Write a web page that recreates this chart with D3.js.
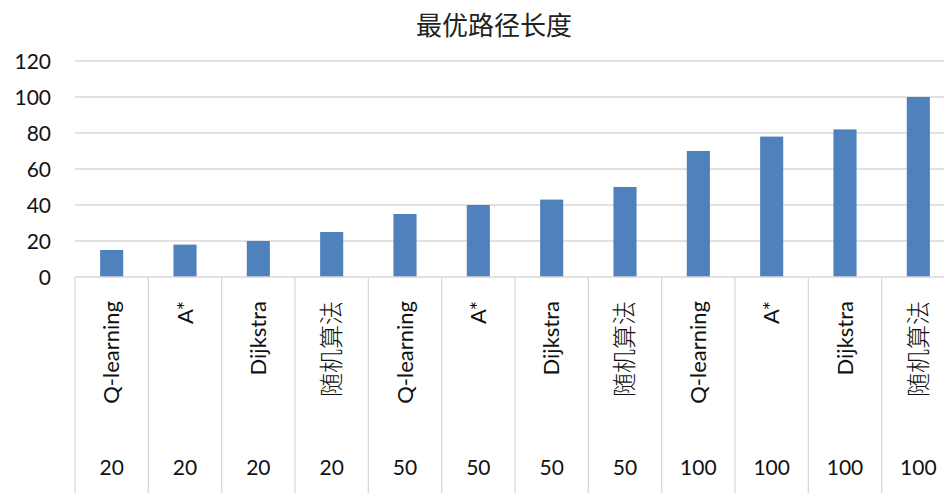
<!DOCTYPE html>
<html>
<head>
<meta charset="utf-8">
<script src="https://cdn.jsdelivr.net/npm/d3@7"></script>
<style>
  body { margin: 0; background: #fff; }
  svg { display: block; }
</style>
</head>
<body>
<div id="chart"></div>
<script>
const methods = ['Q-learning', 'A*', 'Dijkstra', '随机算法', 'Q-learning', 'A*', 'Dijkstra', '随机算法', 'Q-learning', 'A*', 'Dijkstra', '随机算法'];
const sizes = ['20', '20', '20', '20', '50', '50', '50', '50', '100', '100', '100', '100'];
const lengths = [15, 18, 20, 25, 35, 40, 43, 50, 70, 78, 82, 100];
const yTicks = [0, 20, 40, 60, 80, 100, 120];

const W = 944, H = 493;
const margin = { left: 75, top: 61 };
const plotW = 880, plotH = 216;

const svg = d3.select('#chart').append('svg')
  .attr('width', W)
  .attr('height', H);

const font = 'Lato, "Noto Sans CJK SC", sans-serif';
const grid = '#d9d9d9';

svg.append('text')
  .attr('x', 494)
  .attr('y', 35)
  .attr('text-anchor', 'middle')
  .attr('font-family', '"Noto Sans CJK SC", sans-serif')
  .attr('font-size', '26px')
  .attr('font-weight', 400)
  .attr('fill', '#222')
  .text('最优路径长度');

const g = svg.append('g')
  .attr('transform', 'translate(' + margin.left + ', ' + margin.top + ')');

const x = d3.scaleBand()
  .domain(d3.range(methods.length))
  .range([0, plotW])
  .padding(0);

const y = d3.scaleLinear().domain([0, 120]).range([plotH, 0]);

// gridlines
g.selectAll('.grid')
  .data(yTicks.filter(d => d > 0))
  .enter().append('line')
  .attr('x1', 0).attr('x2', plotW)
  .attr('y1', d => y(d)).attr('y2', d => y(d))
  .attr('stroke', grid).attr('stroke-width', 1.3);

// y labels
g.selectAll('.ylab')
  .data(yTicks)
  .enter().append('text')
  .attr('x', -24)
  .attr('y', d => y(d))
  .attr('dy', '0.36em')
  .attr('text-anchor', 'end')
  .attr('font-family', font)
  .attr('font-size', '21px')
  .attr('fill', '#111')
  .text(d => d);

// bars
const barW = x.bandwidth() * 0.315;
g.selectAll('rect')
  .data(lengths)
  .enter().append('rect')
  .attr('x', (d, i) => x(i) + (x.bandwidth() - barW) / 2)
  .attr('y', d => y(d))
  .attr('width', barW)
  .attr('height', d => y(0) - y(d))
  .attr('fill', '#4f81bd');

// axis line + category separators
g.append('line')
  .attr('x1', 0).attr('x2', plotW)
  .attr('y1', y(0)).attr('y2', y(0))
  .attr('stroke', grid).attr('stroke-width', 1.3);

g.selectAll('.sep')
  .data(d3.range(methods.length + 1))
  .enter().append('line')
  .attr('x1', i => i < methods.length ? x(i) : plotW)
  .attr('x2', i => i < methods.length ? x(i) : plotW)
  .attr('y1', y(0)).attr('y2', H - margin.top)
  .attr('stroke', grid).attr('stroke-width', 1.3);

// method labels (rotated)
g.selectAll('.mlab')
  .data(methods)
  .enter().append('text')
  .attr('transform', (d, i) => 'translate(' + (x(i) + x.bandwidth() / 2) + ', ' + (y(0) + 24) + ') rotate(-90)')
  .attr('text-anchor', 'end')
  .attr('dy', '0.35em')
  .attr('font-family', font)
  .attr('font-size', d => /[\u4e00-\u9fff]/.test(d) ? '24px' : '22px')
  .attr('font-weight', d => /[\u4e00-\u9fff]/.test(d) ? 300 : 400)
  .attr('fill', '#111')
  .text(d => d);

// size labels
g.selectAll('.slab')
  .data(sizes)
  .enter().append('text')
  .attr('x', (d, i) => x(i) + x.bandwidth() / 2)
  .attr('y', 414)
  .attr('text-anchor', 'middle')
  .attr('font-family', font)
  .attr('font-size', '21px')
  .attr('fill', '#111')
  .text(d => d);
</script>
</body>
</html>
